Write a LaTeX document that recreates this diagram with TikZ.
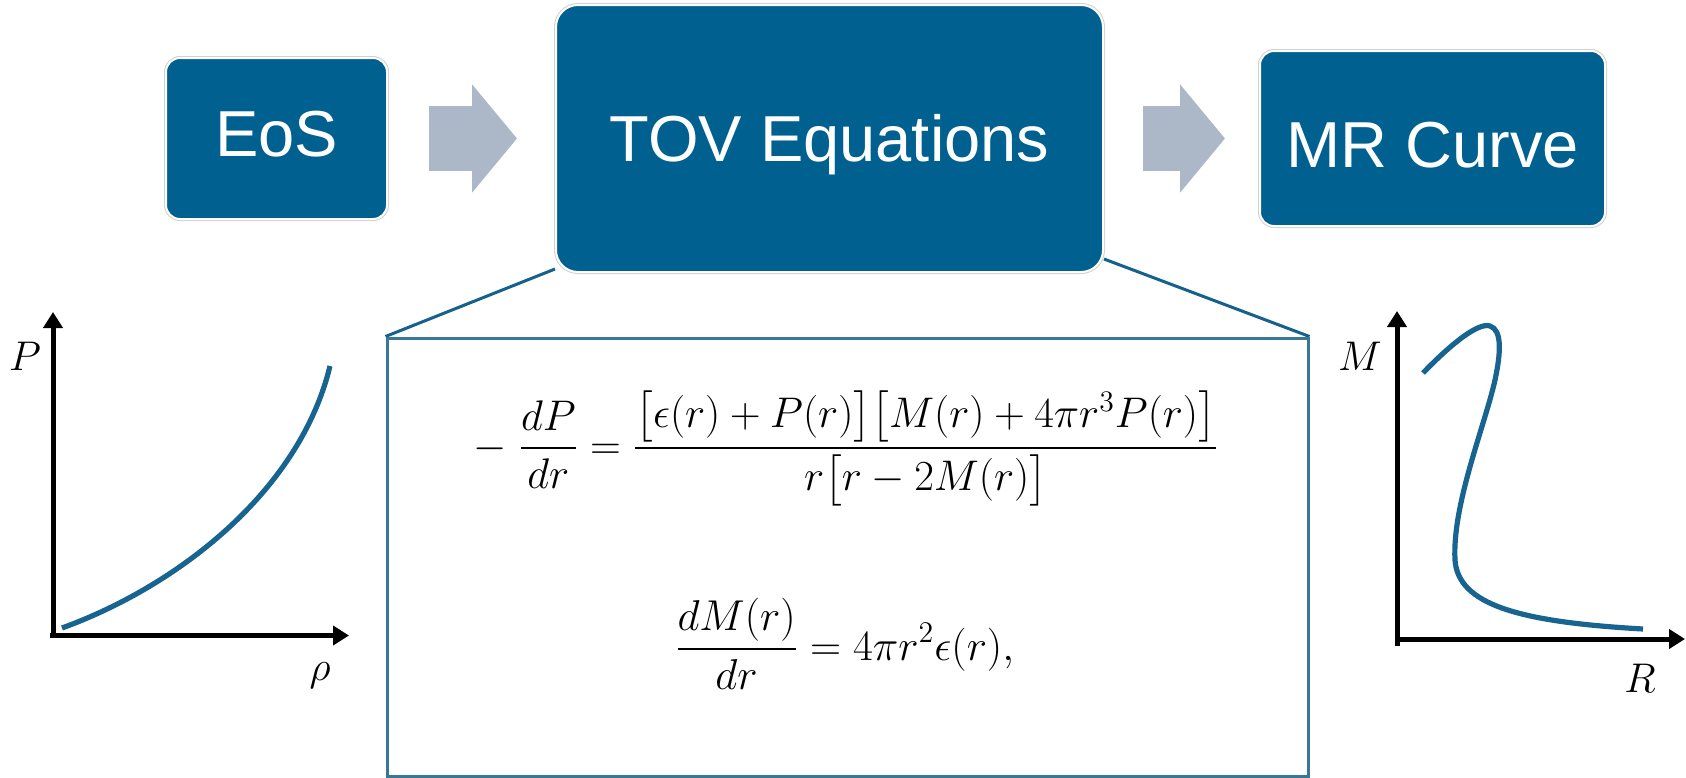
\documentclass[tikz,border=0pt]{standalone}
\usepackage{fontspec}
\usepackage{amsmath}
\usepackage{graphicx}
\newfontfamily\boxfont{Liberation Sans}
\usetikzlibrary{arrows.meta}
\definecolor{boxblue}{RGB}{0,96,143}
\definecolor{arrowgray}{RGB}{172,184,199}
\definecolor{curveblue}{RGB}{24,100,145}
\definecolor{frameblue}{RGB}{55,120,152}
\definecolor{linkblue}{RGB}{22,96,140}
\pgfdeclarelayer{bg}
\pgfsetlayers{bg,main}
\begin{document}
\begin{tikzpicture}[x=0.5pt,y=-0.5pt,
  bluebox/.style={rectangle, fill=boxblue, draw=white, line width=1pt,
    preaction={draw=black!18, line width=2pt}, text=white, inner sep=0pt,
    font=\boxfont\fontsize{32.5}{36}\selectfont, text height=23.3pt, text depth=0pt},
  blockarr/.style={draw=arrowgray, line width=32.5pt,
    -{Triangle[length=22.5pt, width=53pt, fill=arrowgray]}},
  axisline/.style={draw=black, line width=2.5pt, -{Triangle[length=8pt, width=9.5pt]}},
  curveline/.style={draw=curveblue, line width=2.6pt},
  axlabel/.style={inner sep=0pt, font=\fontsize{21}{24}\selectfont},
  eqframe/.style={rectangle, draw=frameblue, line width=1.5pt, fill=white, inner sep=0pt},
  link/.style={draw=linkblue, line width=1.5pt}
]
\useasboundingbox (0,0) rectangle (1686,777);

% top boxes
\node[bluebox, rounded corners=7pt, minimum width=110.5pt, minimum height=80.5pt, text depth=5pt]
  (eos) at (276.5,138.5) {EoS};
\node[bluebox, rounded corners=11pt, minimum width=273.5pt, minimum height=133.5pt]
  (tov) at (829.5,138.5) {TOV Equations};
\node[bluebox, rounded corners=7pt, minimum width=172.5pt, minimum height=87.5pt, text height=28.8pt]
  (mr) at (1432.5,138.5) {MR Curve};

% block arrows
\draw[blockarr, shorten <=20.5pt, shorten >=19pt] (eos.east) -- (tov.west);
\draw[blockarr, shorten <=19.5pt, shorten >=17pt] (tov.east) -- (mr.west);

% equation frame
\node[eqframe, minimum width=460.5pt, minimum height=219pt] (eqbox) at (847.5,557) {};
\begin{pgfonlayer}{bg}
\draw[link] ([yshift=2pt]tov.south west) -- (eqbox.north west);
\draw[link] ([yshift=7pt]tov.south east) -- (eqbox.north east);
\end{pgfonlayer}

\node[anchor=base west, inner sep=0pt] (eqa) at (473,459)
  {\resizebox{372.5pt}{!}{\fontsize{20}{24}\selectfont$\displaystyle -\;\frac{dP}{dr} = \frac{\big[\epsilon(r)+P(r)\big]\big[M(r)+4\pi r^3P(r)\big]}{r\big[r-2M(r)\big]}$}};
\node[anchor=base, inner sep=0pt] (eqb) at (844.5,660)
  {\resizebox{169.5pt}{!}{\fontsize{20}{24}\selectfont$\displaystyle \frac{dM(r)}{dr} = 4\pi r^2\epsilon(r),$}};

% left plot: P vs rho
\draw[axisline] (50,635.5) -- (349,635.5);
\draw[axisline] (53,638) -- (53,312);
\draw[curveline] (62,628) .. controls (180,585) and (300,490) .. (330,366);
\node[axlabel, anchor=base] (lp) at (25,370) {$P$};
\node[axlabel, anchor=base] (lrho) at (320,680) {$\rho$};

% right plot: M vs R
\draw[axisline] (1397,646) -- (1397,311);
\draw[axisline] (1399,639) -- (1685,639);
\draw[curveline] (1423,373) .. controls (1450,345) and (1478,322) .. (1490,326)
  .. controls (1502,330) and (1501,352) .. (1495,380)
  .. controls (1485,425) and (1452,505) .. (1455,560)
  .. controls (1458,605) and (1520,622) .. (1643,629);
\node[axlabel, anchor=base] (lm) at (1360,370) {$M$};
\node[axlabel, anchor=base] (lr) at (1640,692) {$R$};
\end{tikzpicture}
\end{document}
